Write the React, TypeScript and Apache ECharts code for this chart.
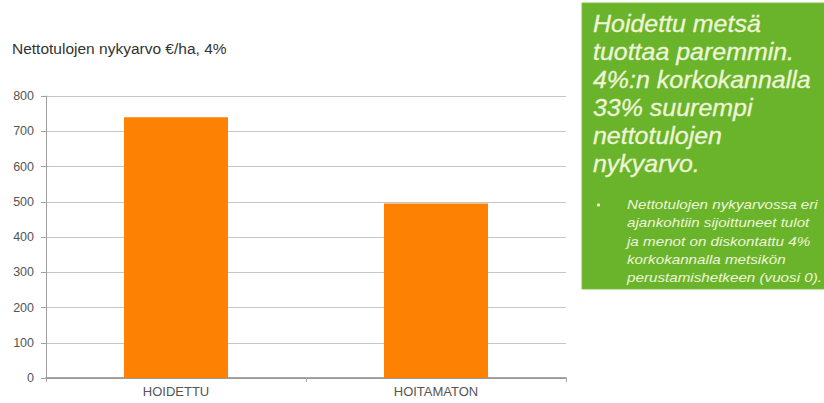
import React, { useEffect, useRef } from "react";
import * as echarts from "echarts";

const title = "Nettotulojen nykyarvo €/ha, 4%";
const categories = ["HOIDETTU", "HOITAMATON"];
const values = [740, 495];
const yTicks = { min: 0, max: 800, interval: 100 };

const headlineLines = [
  "Hoidettu metsä",
  "tuottaa paremmin.",
  "4%:n korkokannalla",
  "33% suurempi",
  "nettotulojen",
  "nykyarvo.",
];
const noteLines = [
  "Nettotulojen nykyarvossa eri",
  "ajankohtiin sijoittuneet tulot",
  "ja menot on diskontattu 4%",
  "korkokannalla metsikön",
  "perustamishetkeen (vuosi 0).",
];

const FONT = "'Liberation Sans', Arial, sans-serif";
const BOX_GREEN = "#6ab42b";
const BOX_TEXT = "#eef5d9";

export default function App() {
  const ref = useRef<HTMLDivElement>(null);

  useEffect(() => {
    if (!ref.current) return;
    const chart = echarts.init(ref.current, undefined, { renderer: "svg" });

    const headline = headlineLines.map((t, i) => ({
      type: "text",
      x: 593,
      y: 12 + i * 28,
      scaleX: 1.04,
      style: {
        text: t,
        fill: BOX_TEXT,
        stroke: BOX_TEXT,
        lineWidth: 0.3,
        font: `italic 24px ${FONT}`,
        textVerticalAlign: "top",
      },
    }));
    const notes = noteLines.map((t, i) => ({
      type: "text",
      x: 627,
      y: 198 + i * 18.3,
      scaleX: 1.17,
      style: { text: t, fill: BOX_TEXT, font: `italic 13px ${FONT}`, textVerticalAlign: "top" },
    }));

    chart.setOption({
      animation: false,
      backgroundColor: "#ffffff",
      title: {
        text: title,
        left: 7,
        top: 35,
        textStyle: {
          fontFamily: FONT,
          fontSize: 15.5,
          fontWeight: "normal",
          color: "#333333",
        },
      },
      grid: { left: 46, right: 258, top: 96, bottom: 25, containLabel: false },
      xAxis: {
        type: "category",
        data: categories,
        axisLine: { lineStyle: { color: "#8a8a8a", width: 1.5 } },
        axisTick: { show: true, length: 4, lineStyle: { color: "#aaaaaa" } },
        axisLabel: {
          fontFamily: FONT,
          fontSize: 13,
          color: "#555555",
          margin: 7,
        },
      },
      yAxis: {
        type: "value",
        min: yTicks.min,
        max: yTicks.max,
        interval: yTicks.interval,
        axisLine: { show: true, lineStyle: { color: "#a0a0a0" } },
        axisTick: { show: true, length: 5, lineStyle: { color: "#a0a0a0" } },
        axisLabel: {
          fontFamily: FONT,
          fontSize: 12.5,
          color: "#555555",
          margin: 12,
        },
        splitLine: { lineStyle: { color: "#c6c6c6", width: 1 } },
      },
      series: [
        {
          type: "bar",
          data: values,
          barWidth: "40%",
          itemStyle: { color: "#fd8204" },
        },
      ],
      graphic: [
        {
          type: "rect",
          shape: { x: 582, y: 3, width: 250, height: 286 },
          style: { fill: BOX_GREEN, stroke: "#7cbf42", lineWidth: 1 },
        },
        ...headline,
        {
          type: "circle",
          shape: { cx: 598.5, cy: 205, r: 1.6 },
          style: { fill: BOX_TEXT },
        },
        ...notes,
      ],
    });

    return () => chart.dispose();
  }, []);

  return (
    <div
      ref={ref}
      style={{ position: "absolute", left: 0, top: 0, width: 824, height: 403 }}
    />
  );
}
